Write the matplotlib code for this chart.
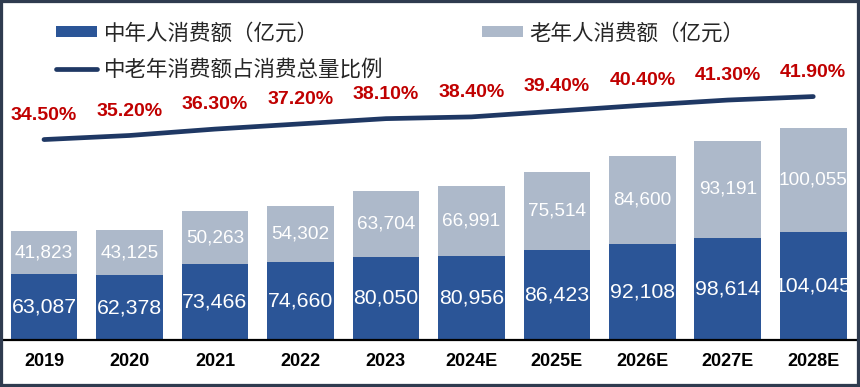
import matplotlib.pyplot as plt
import numpy as np
from matplotlib.patches import Rectangle

plt.rcParams['font.family'] = ['Liberation Sans', 'Noto Sans CJK SC', 'DejaVu Sans']

years = ["2019", "2020", "2021", "2022", "2023", "2024E", "2025E", "2026E", "2027E", "2028E"]
middle_aged = [63087, 62378, 73466, 74660, 80050, 80956, 86423, 92108, 98614, 104045]
elderly = [41823, 43125, 50263, 54302, 63704, 66991, 75514, 84600, 93191, 100055]
share_pct = [34.5, 35.2, 36.3, 37.2, 38.1, 38.4, 39.4, 40.4, 41.3, 41.9]

labels = ["中年人消费额（亿元）", "老年人消费额（亿元）", "中老年消费额占消费总量比例"]

c_dark = "#2B5597"
c_light = "#ADB9CA"
c_line = "#1F3864"
c_red = "#C00000"

W, H = 860, 387
fig = plt.figure(figsize=(W / 100, H / 100), dpi=100)
ax = fig.add_axes([1.25 / W, 47 / H, 854.75 / W, 340 / H])

x = np.arange(len(years))
b1 = ax.bar(x, middle_aged, width=0.78, color=c_dark, label=labels[0])
b2 = ax.bar(x, elderly, width=0.78, bottom=middle_aged, color=c_light, label=labels[1])

# value labels inside the bars
for i in range(len(years)):
    ax.text(x[i], middle_aged[i] / 2, f"{middle_aged[i]:,}", ha="center", va="center",
            color="white", fontsize=15.3)
    ax.text(x[i], middle_aged[i] + elderly[i] / 2, f"{elderly[i]:,}", ha="center", va="center",
            color="white", fontsize=13.7)

ax.set_xlim(-0.5, len(years) - 0.5)
ax.set_ylim(0, 340 / 0.001039)
ax.set_yticks([])
for s in ["top", "left", "right"]:
    ax.spines[s].set_visible(False)
ax.spines["bottom"].set_linewidth(1.6)
ax.spines["bottom"].set_color("black")
ax.set_xticks(x)
ax.set_xticklabels(years, fontsize=13, fontweight="bold")
ax.tick_params(axis="x", length=0, pad=9)

# share line on secondary axis
ax2 = ax.twinx()
ln, = ax2.plot(x, share_pct, color=c_line, lw=3.4, solid_capstyle="round", label=labels[2])
ax2.set_ylim(0, 340 / 5.81)
ax2.set_yticks([])
for s in ax2.spines.values():
    s.set_visible(False)
for i, p in enumerate(share_pct):
    ax2.annotate(f"{p:.2f}%", (x[i], p), xytext=(0, 17.5), textcoords="offset points",
                 ha="center", va="center", color=c_red, fontsize=14, fontweight="bold")

leg = ax.legend([b1, ln, b2], [labels[0], labels[2], labels[1]], ncol=2,
                loc="upper left", bbox_to_anchor=(37 / W, 1 - 3 / H),
                bbox_transform=fig.transFigure, frameon=False,
                prop={"family": ["Noto Sans CJK SC"], "size": 15.5},
                handlelength=1.9, handleheight=0.4, handletextpad=0.3,
                labelspacing=0.68, columnspacing=4.6)
for t in leg.get_texts():
    t.set_color("#262626")

fig.add_artist(Rectangle((0, 0), 1, 1, transform=fig.transFigure, fill=False,
                         edgecolor="#2F3B4F", lw=4.5, clip_on=False))

fig.savefig("out.png", dpi=100)
